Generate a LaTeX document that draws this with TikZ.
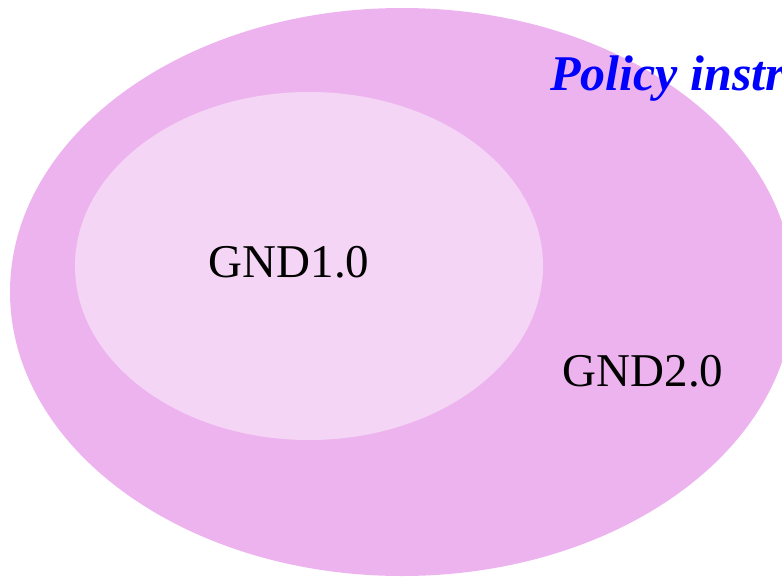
\documentclass[tikz,border=0pt]{standalone}
\usepackage{fontspec}
\setmainfont{Liberation Serif}
\definecolor{outerpink}{RGB}{237,179,238}
\definecolor{innerpink}{RGB}{245,213,245}
\definecolor{titleblue}{RGB}{0,0,255}
\begin{document}
\begin{tikzpicture}[x=1pt,y=-1pt,
  setlabel/.style={font=\fontsize{47}{50}\selectfont, text=black, inner sep=0pt},
  titlelabel/.style={font=\fontsize{50}{54}\selectfont\bfseries\itshape, text=titleblue, inner sep=0pt}]
\useasboundingbox (0,0) rectangle (782,576);
\clip (0,0) rectangle (782,576);
\fill[outerpink] (402,292) ellipse [x radius=392, y radius=284];
\fill[innerpink] (309,266) ellipse [x radius=234, y radius=174];
\node[titlelabel, anchor=base west] (title) at (550,90) {Policy instruments};
\node[setlabel, anchor=base] (gnd1) at (289,277) {GND1.0};
\node[setlabel, anchor=base] (gnd2) at (643,386) {GND2.0};
\end{tikzpicture}
\end{document}
